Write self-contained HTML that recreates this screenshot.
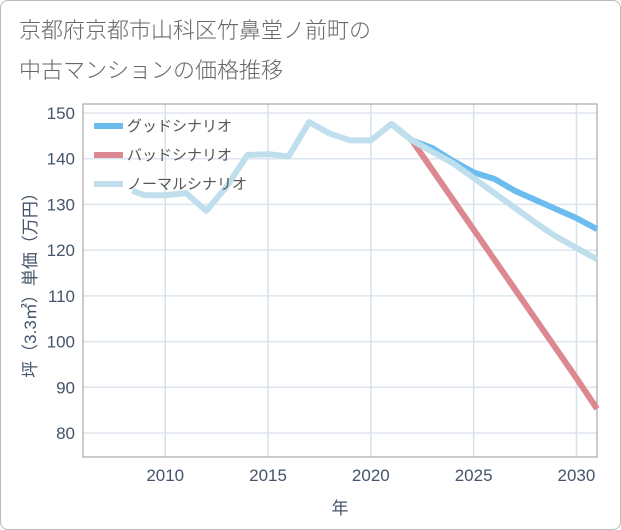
<!DOCTYPE html>
<html><head><meta charset="utf-8"><style>
body{margin:0;background:#fff;}
#wrap{position:relative;width:619px;height:528px;border:1px solid #bbb;border-radius:8px;overflow:hidden;font-family:"Liberation Sans","Noto Sans CJK JP",sans-serif;}
#title{position:absolute;left:18px;top:10px;font-size:22px;line-height:40px;color:#666;font-weight:300;}
</style></head><body>
<div id="wrap">
<div id="title">京都府京都市山科区竹鼻堂ノ前町の<br>中古マンションの価格推移</div>
<svg id="chart" width="621" height="530" style="position:absolute;left:-1px;top:-1px"></svg>
</div>
<script>
const xTicks=[2010,2015,2020,2025,2030];
const yTicks=[80,90,100,110,120,130,140,150];
const normalYears=[2008.4,2009,2010,2011,2012,2013,2014,2015,2016,2017,2018,2019,2020,2021,2022,2023,2024,2025,2026,2027,2028,2029,2030,2031];
const normalVals=[133,132,132,132.5,128.6,134,140.8,141,140.5,148,145.5,144,144,147.6,144,141.5,139,135.8,132.5,129.3,126,123,120.5,118];
const goodYears=[2021,2022,2023,2024,2025,2026,2027,2028,2029,2030,2031];
const goodVals=[147.6,144,142.3,139.5,137,135.6,133,131,129,127,124.6];
const badYears=[2021,2022,2023,2024,2025,2026,2027,2028,2029,2030,2031];
const badVals=[147.6,144,137.5,131,124.5,118,111.5,105,98.5,92,85.3];
const L=83,R=597,T=104,B=457;
const X=y=>L+(y-2006)*(R-L)/25;
const Y=v=>113+(150-v)*320/70;
const NS='http://www.w3.org/2000/svg';
const svg=document.getElementById('chart');
function mk(tag,attrs,parent){const e=document.createElementNS(NS,tag);for(const k in attrs)e.setAttribute(k,attrs[k]);(parent||svg).appendChild(e);return e;}
const grid=mk('g',{});


yTicks.forEach(v=>{
 const l=mk('line',{x1:L,x2:R,y1:Y(v),y2:Y(v),stroke:'#dde6ee','stroke-width':1.5},grid);
 
 
 const t=mk('text',{x:L-8,y:Y(v)+6,'text-anchor':'end','font-size':17,fill:'#44546a'});
 t.textContent=v;
 
 
});
xTicks.forEach(v=>{
 const l=mk('line',{x1:X(v),x2:X(v),y1:T,y2:B,stroke:'#d3e3ee','stroke-width':1.5},grid);
 
 
 const t=mk('text',{x:X(v),y:B+24,'text-anchor':'middle','font-size':17,fill:'#44546a'});
 t.textContent=v;
 
 
});
const frame=mk('rect',{x:L,y:T,width:R-L,height:B-T,fill:'none',stroke:'#999','stroke-width':1});


function line(xs,vs,color,name){
 const p=mk('polyline',{points:xs.map((x,i)=>X(x)+','+Y(vs[i])).join(' '),fill:'none',stroke:color,'stroke-width':6,'stroke-linejoin':'round'});
 
 
}
line(badYears,badVals,'#dc8890','bad-scenario-line');
line(goodYears,goodVals,'#6cbcf0','good-scenario-line');
line(normalYears,normalVals,'#bfdfec','normal-scenario-line');
const leg=[['グッドシナリオ','#6cbcf0'],['バッドシナリオ','#dc8890'],['ノーマルシナリオ','#bfdfec']];
leg.forEach((d,i)=>{
 const g=mk('g',{});
 
 
 const y=126+i*29;
 mk('line',{x1:94,x2:123,y1:y,y2:y,stroke:d[1],'stroke-width':6},g);
 const t=mk('text',{x:127,y:y+5,'font-size':15,fill:'#555'},g);
 t.textContent=d[0];
});
const yt=mk('text',{transform:'translate(36,281) rotate(-90)','text-anchor':'middle','font-size':17,fill:'#44546a'});
yt.textContent='坪（3.3㎡）単価（万円）';


const xt=mk('text',{x:340,y:514,'text-anchor':'middle','font-size':17,fill:'#44546a'});
xt.textContent='年';


</script>
</body></html>
